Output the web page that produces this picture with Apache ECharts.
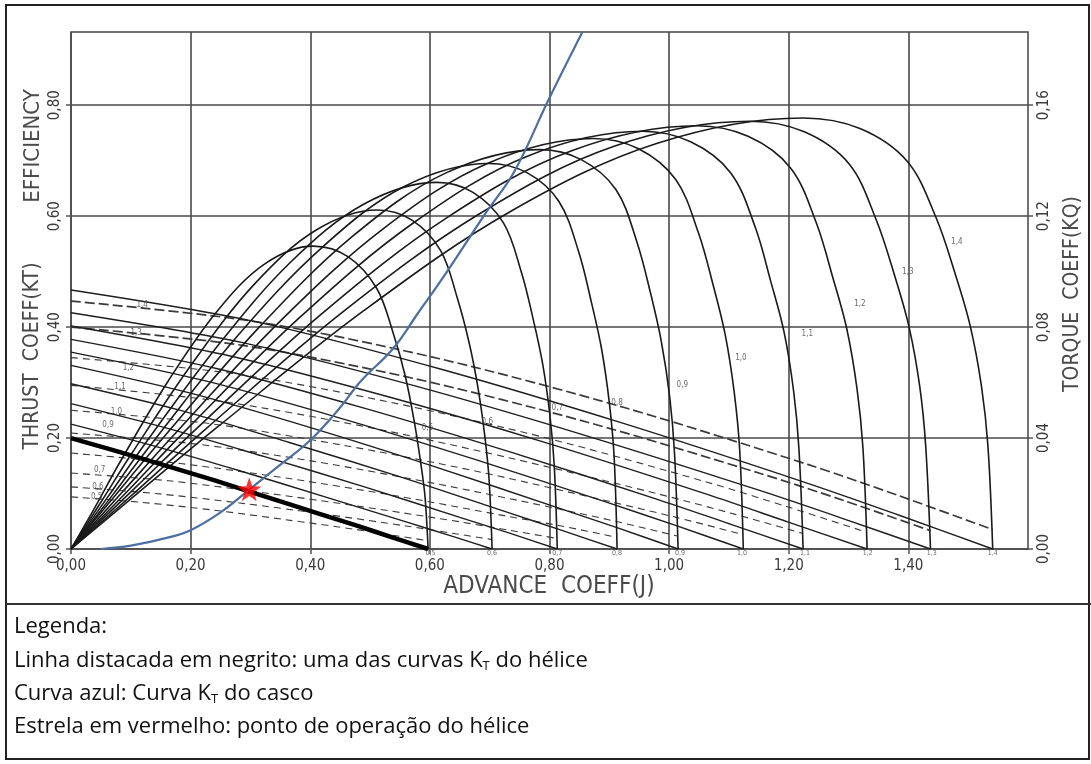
<!DOCTYPE html>
<html><head><meta charset="utf-8">
<script src="https://cdn.jsdelivr.net/npm/echarts/dist/echarts.min.js"></script>
<style>html,body{margin:0;padding:0;background:#fff}#c{width:1091px;height:764px}</style>
</head><body><div id="c"></div>
<script>
// ---------- tick labels ----------
const xTicks = [0, 0.2, 0.4, 0.6, 0.8, 1.0, 1.2, 1.4];
const ktTicks = [0, 0.2, 0.4, 0.6, 0.8];
const kqTicks = [0, 0.04, 0.08, 0.12, 0.16];

// ---------- efficiency curves (J, eta) ----------
const eta05 = [[0,0],[0.041,0.077],[0.081,0.155],[0.162,0.302],[0.243,0.427],[0.324,0.514],[0.405,0.546],[0.463,0.527],[0.511,0.470],[0.539,0.388],[0.559,0.311],[0.574,0.229],[0.585,0.153],[0.592,0.093],[0.597,0]];
const eta06 = [[0,0],[0.051,0.086],[0.102,0.173],[0.205,0.338],[0.307,0.478],[0.410,0.575],[0.512,0.611],[0.570,0.593],[0.618,0.538],[0.646,0.452],[0.666,0.370],[0.681,0.287],[0.692,0.202],[0.699,0.125],[0.704,0]];
const eta07 = [[0,0],[0.061,0.093],[0.122,0.187],[0.245,0.366],[0.367,0.517],[0.490,0.622],[0.612,0.661],[0.672,0.643],[0.723,0.588],[0.753,0.499],[0.773,0.413],[0.789,0.331],[0.801,0.238],[0.808,0.149],[0.813,0]];
const eta08 = [[0,0],[0.070,0.098],[0.140,0.197],[0.279,0.385],[0.419,0.543],[0.558,0.654],[0.698,0.695],[0.763,0.678],[0.816,0.626],[0.849,0.535],[0.870,0.445],[0.887,0.361],[0.900,0.264],[0.908,0.167],[0.913,0]];
const eta09 = [[0,0],[0.078,0.102],[0.157,0.204],[0.314,0.399],[0.470,0.563],[0.627,0.678],[0.784,0.720],[0.853,0.702],[0.911,0.648],[0.946,0.554],[0.969,0.461],[0.987,0.374],[1.001,0.274],[1.009,0.173],[1.015,0]];
const eta10 = [[0,0],[0.087,0.104],[0.175,0.209],[0.349,0.410],[0.524,0.579],[0.698,0.696],[0.873,0.740],[0.948,0.722],[1.011,0.666],[1.049,0.570],[1.074,0.474],[1.094,0.385],[1.109,0.281],[1.118,0.178],[1.124,0]];
const eta11 = [[0,0],[0.096,0.106],[0.191,0.213],[0.382,0.417],[0.574,0.589],[0.765,0.709],[0.956,0.753],[1.036,0.734],[1.103,0.678],[1.144,0.580],[1.170,0.482],[1.192,0.392],[1.208,0.286],[1.217,0.181],[1.224,0]];
const eta12 = [[0,0],[0.105,0.108],[0.209,0.216],[0.418,0.423],[0.628,0.597],[0.837,0.718],[1.046,0.763],[1.132,0.744],[1.203,0.687],[1.246,0.588],[1.274,0.488],[1.297,0.397],[1.314,0.290],[1.324,0.183],[1.331,0]];
const eta13 = [[0,0],[0.114,0.109],[0.227,0.218],[0.454,0.427],[0.681,0.603],[0.908,0.726],[1.135,0.771],[1.226,0.752],[1.301,0.694],[1.346,0.594],[1.377,0.493],[1.401,0.401],[1.419,0.293],[1.429,0.185],[1.437,0]];
const eta14 = [[0,0],[0.122,0.110],[0.245,0.220],[0.490,0.430],[0.734,0.608],[0.979,0.731],[1.224,0.777],[1.319,0.758],[1.398,0.699],[1.446,0.598],[1.478,0.497],[1.503,0.404],[1.522,0.295],[1.533,0.186],[1.541,0]];

// ---------- thrust coefficient KT (J, KT) ----------
const kt05 = [[0,0.200],[0.119,0.163],[0.239,0.124],[0.358,0.083],[0.478,0.042],[0.537,0.021],[0.597,0]];
const kt06 = [[0,0.225],[0.141,0.185],[0.282,0.141],[0.422,0.095],[0.563,0.048],[0.634,0.024],[0.704,0]];
const kt07 = [[0,0.262],[0.163,0.217],[0.325,0.166],[0.488,0.113],[0.650,0.057],[0.732,0.029],[0.813,0]];
const kt08 = [[0,0.298],[0.183,0.250],[0.365,0.192],[0.548,0.131],[0.730,0.066],[0.822,0.033],[0.913,0]];
const kt09 = [[0,0.331],[0.203,0.280],[0.406,0.217],[0.609,0.148],[0.812,0.075],[0.914,0.038],[1.015,0]];
const kt10 = [[0,0.355],[0.225,0.303],[0.450,0.236],[0.674,0.162],[0.899,0.083],[1.012,0.042],[1.124,0]];
const kt11 = [[0,0.378],[0.245,0.325],[0.490,0.254],[0.734,0.175],[0.979,0.090],[1.102,0.045],[1.224,0]];
const kt12 = [[0,0.402],[0.266,0.348],[0.532,0.274],[0.799,0.190],[1.065,0.098],[1.198,0.049],[1.331,0]];
const kt13 = [[0,0.426],[0.287,0.372],[0.575,0.294],[0.862,0.204],[1.150,0.106],[1.293,0.054],[1.437,0]];
const kt14 = [[0,0.467],[0.308,0.410],[0.616,0.325],[0.925,0.226],[1.233,0.118],[1.387,0.060],[1.541,0]];

// ---------- torque coefficient KQ (J, KQ) on right axis ----------
const kq05 = [[0,0.0188],[0.119,0.0168],[0.239,0.0140],[0.358,0.0106],[0.478,0.0070],[0.537,0.0050],[0.597,0.0030]];
const kq06 = [[0,0.0224],[0.141,0.0200],[0.282,0.0166],[0.422,0.0126],[0.563,0.0082],[0.634,0.0058],[0.704,0.0034]];
const kq07 = [[0,0.0274],[0.163,0.0246],[0.325,0.0202],[0.488,0.0152],[0.650,0.0098],[0.732,0.0068],[0.813,0.0038]];
const kq08 = [[0,0.0346],[0.183,0.0308],[0.365,0.0254],[0.548,0.0190],[0.730,0.0118],[0.822,0.0082],[0.913,0.0042]];
const kq09 = [[0,0.0418],[0.203,0.0380],[0.406,0.0316],[0.609,0.0236],[0.812,0.0146],[0.914,0.0098],[1.015,0.0046]];
const kq10 = [[0,0.0500],[0.225,0.0454],[0.450,0.0376],[0.674,0.0282],[0.899,0.0172],[1.012,0.0114],[1.124,0.0052]];
const kq11 = [[0,0.0590],[0.245,0.0534],[0.490,0.0442],[0.734,0.0328],[0.979,0.0200],[1.102,0.0130],[1.224,0.0056]];
const kq12 = [[0,0.0690],[0.266,0.0634],[0.532,0.0530],[0.799,0.0398],[1.065,0.0240],[1.198,0.0152],[1.331,0.0060]];
const kq13 = [[0,0.0800],[0.287,0.0734],[0.575,0.0614],[0.862,0.0458],[1.150,0.0274],[1.293,0.0174],[1.437,0.0066]];
const kq14 = [[0,0.0894],[0.308,0.0820],[0.616,0.0686],[0.925,0.0510],[1.233,0.0304],[1.387,0.0190],[1.541,0.0070]];

// ---------- hull curve (blue) and operating point ----------
const hullKT = [[0.05,0],[0.10,0.006],[0.16,0.020],[0.20,0.034],[0.25,0.066],[0.298,0.107],[0.35,0.152],[0.40,0.196],[0.45,0.255],[0.484,0.302],[0.539,0.362],[0.58,0.425],[0.623,0.491],[0.693,0.605],[0.741,0.680],[0.798,0.809],[0.855,0.932]];
const operatingPoint = [[0.298,0.1075]];

// ---------- curve labels (J, value, text) ----------
const kqLabels = [[0.119,0.440,'1,4'],[0.109,0.389,'1,3'],[0.096,0.326,'1,2'],[0.082,0.292,'1,1'],[0.076,0.247,'1,0'],[0.062,0.223,'0,9'],[0.048,0.142,'0,7'],[0.045,0.112,'0,6'],[0.043,0.094,'0,5']];
const etaLabels = [[0.596,0.218,'0,5'],[0.696,0.229,'0,6'],[0.813,0.254,'0,7'],[0.913,0.263,'0,8'],[1.022,0.295,'0,9'],[1.120,0.344,'1,0'],[1.231,0.387,'1,1'],[1.319,0.441,'1,2'],[1.399,0.499,'1,3'],[1.481,0.553,'1,4']];
const endLabels = [[0.601,0,'0,5'],[0.704,0,'0,6'],[0.813,0,'0,7'],[0.913,0,'0,8'],[1.018,0,'0,9'],[1.122,0,'1,0'],[1.227,0,'1,1'],[1.332,0,'1,2'],[1.439,0,'1,3'],[1.541,0,'1,4']];

const etaSet = [eta05, eta06, eta07, eta08, eta09, eta10, eta11, eta12, eta13, eta14];
const ktSet = [kt06, kt07, kt08, kt09, kt10, kt11, kt12, kt13, kt14];
const kqSet = [kq05, kq06, kq07, kq08, kq09, kq10, kq11, kq12, kq13, kq14];

const FONT = "'DejaVu Sans Condensed', 'DejaVu Sans', sans-serif";
const LFONT = "'Open Sans', sans-serif";
const fmt = v => v.toFixed(2).replace('.', ',');

const series = [];
kqSet.forEach((d, i) => series.push({
  type: 'line', yAxisIndex: 1, data: d, symbol: 'none', smooth: 0.3,
  lineStyle: { color: '#3a3a3a', width: i >= 8 ? 1.7 : 1.1, type: i >= 8 ? [10, 4] : [7, 5] },
  silent: true, z: 2
}));
ktSet.forEach(d => series.push({
  type: 'line', data: d, symbol: 'none', smooth: 0.3,
  lineStyle: { color: '#1e1e1e', width: 1.4 }, silent: true, z: 3
}));
etaSet.forEach(d => series.push({
  type: 'line', data: d, symbol: 'none', smooth: 0.35,
  lineStyle: { color: '#1a1a1a', width: 1.6 }, silent: true, z: 4
}));
series.push({
  type: 'line', data: kt05, symbol: 'none', smooth: 0.3,
  lineStyle: { color: '#000', width: 4.5 }, silent: true, z: 5
});
series.push({
  type: 'line', data: hullKT, symbol: 'none', smooth: 0.4,
  lineStyle: { color: '#4d6f9f', width: 2.2 }, silent: true, z: 6
});
series.push({
  type: 'scatter', data: operatingPoint, z: 7, silent: true,
  symbol: 'path://M0,-10L2.35,-3.24L9.51,-3.09L3.8,1.24L5.88,8.09L0,4L-5.88,8.09L-3.8,1.24L-9.51,-3.09L-2.35,-3.24Z',
  symbolSize: 24, itemStyle: { color: '#ff0000' }
});
const labelSeries = (d, pos, size) => ({
  type: 'scatter', data: d, symbolSize: 0, silent: true, z: 8, clip: false,
  label: { show: true, position: pos, distance: 1, formatter: p => p.value[2], fontSize: size, color: '#444', fontFamily: FONT }
});
series.push(labelSeries(kqLabels, 'inside', 8));
series.push(labelSeries(etaLabels, 'inside', 8));
series.push(labelSeries(endLabels, 'bottom', 7));

const axisTextStyle = { color: '#3a3a3a', fontFamily: FONT, fontSize: 15 };
const legendStyle = (t, y) => ({
  type: 'text', x: 14, y: y,
  style: { text: t, fontSize: 22, fontFamily: LFONT, fill: '#111', verticalAlign: 'middle',
    rich: { s: { fontSize: 13, fontFamily: LFONT, fill: '#111', padding: [11, 0, 0, 0] } } }
});

const option = {
  animation: false,
  backgroundColor: '#fff',
  grid: { left: 71, top: 32, width: 957, height: 517, show: true, borderColor: '#444', borderWidth: 1.5, containLabel: false },
  xAxis: {
    type: 'value', min: 0, max: 1.6, interval: 0.2,
    axisLine: { show: false },
    axisTick: { show: true, length: 5, customValues: xTicks, lineStyle: { color: '#555', width: 1.5 } },
    axisLabel: Object.assign({ margin: 10, customValues: xTicks, formatter: fmt }, axisTextStyle),
    splitLine: { show: true, lineStyle: { color: '#4a4a4a', width: 1.6 } }
  },
  yAxis: [{
    type: 'value', min: 0, max: 0.932, interval: 0.2, position: 'left',
    axisLine: { show: false },
    axisTick: { show: true, length: 5, customValues: ktTicks, lineStyle: { color: '#555', width: 1.5 } },
    axisLabel: Object.assign({ rotate: 90, margin: 8, customValues: ktTicks, formatter: fmt }, axisTextStyle),
    splitLine: { show: true, lineStyle: { color: '#4a4a4a', width: 1.6 } }
  }, {
    type: 'value', min: 0, max: 0.1864, interval: 0.04, position: 'right',
    axisLine: { show: false },
    axisTick: { show: true, length: 5, customValues: kqTicks, lineStyle: { color: '#555', width: 1.5 } },
    axisLabel: Object.assign({ rotate: 90, margin: 9, customValues: kqTicks, formatter: fmt }, axisTextStyle),
    splitLine: { show: false }
  }],
  graphic: [
    { type: 'rect', shape: { x: 6, y: 5, width: 1083, height: 754 }, style: { fill: 'none', stroke: '#222', lineWidth: 2 }, z: 100 },
    { type: 'line', shape: { x1: 6, y1: 604, x2: 1091, y2: 604 }, style: { stroke: '#333', lineWidth: 2 }, z: 100 },
    { type: 'text', x: 549, y: 587, style: { text: 'ADVANCE  COEFF(J)', fontSize: 24, fontFamily: FONT, fill: '#4a4a4a', align: 'center', verticalAlign: 'middle' } },
    { type: 'text', x: 33, y: 356, rotation: Math.PI / 2, style: { text: 'THRUST  COEFF(KT)', fontSize: 21, fontFamily: FONT, fill: '#4a4a4a', align: 'center', verticalAlign: 'middle' } },
    { type: 'text', x: 33, y: 146, rotation: Math.PI / 2, style: { text: 'EFFICIENCY', fontSize: 22, fontFamily: FONT, fill: '#4a4a4a', align: 'center', verticalAlign: 'middle' } },
    { type: 'text', x: 1073, y: 294, rotation: Math.PI / 2, style: { text: 'TORQUE  COEFF(KQ)', fontSize: 21, fontFamily: FONT, fill: '#4a4a4a', align: 'center', verticalAlign: 'middle' } },
    legendStyle('Legenda:', 627),
    legendStyle('Linha distacada em negrito: uma das curvas K{s|T} do hélice', 661),
    legendStyle('Curva azul: Curva K{s|T} do casco', 694),
    legendStyle('Estrela em vermelho: ponto de operação do hélice', 727)
  ],
  series: series
};

const chart = echarts.init(document.getElementById('c'));
chart.setOption(option);
</script></body></html>
